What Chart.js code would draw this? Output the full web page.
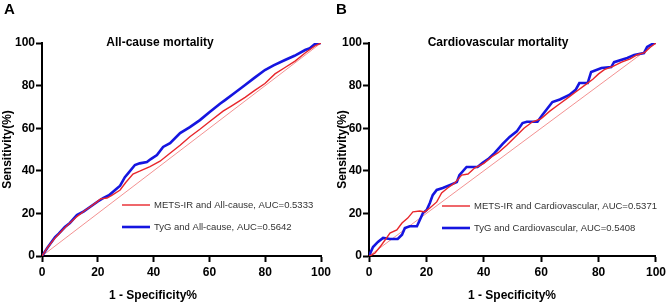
<!DOCTYPE html>
<html>
<head>
<meta charset="utf-8">
<script src="https://cdn.jsdelivr.net/npm/chart.js@4.4.1/dist/chart.umd.min.js"></script>
<style>
  html, body { margin: 0; padding: 0; background: #fff; }
  #wrap { position: relative; width: 669px; height: 303px; }
  #panelA { position: absolute; left: 0; top: 0; }
  #panelB { position: absolute; left: 335px; top: 0; }
</style>
</head>
<body>
<div id="wrap">
  <canvas id="panelA" width="335" height="303"></canvas>
  <canvas id="panelB" width="334" height="303"></canvas>
</div>
<script>
// axis ticks (both axes, both panels)
const tickValues = [0, 20, 40, 60, 80, 100];

// Panel A: all-cause mortality, [1 - specificity %, sensitivity %]
const metsAllCause = [[0,0],[2,4],[4.7,8.5],[8,13],[10,15.5],[12.5,18.5],[15,21],[17.2,23],[19.7,25.4],[21,26.8],[23.3,27.2],[25,28.5],[28,31],[30,34.5],[32.6,38.5],[35,39.8],[38.7,42],[42.3,44.5],[45.2,47.5],[49.5,52],[53,56],[56.6,59.5],[60,63],[64.9,68],[68,70.5],[72.8,74.5],[76,77.5],[79.9,81],[83.5,85.5],[87.1,88.5],[90.7,91.5],[94.3,95.3],[97.8,98.6],[100,100]];
const tygAllCause = [[0,0],[2,4],[4.7,8.9],[6,10.5],[8.2,13.6],[10,15.5],[12.5,19.2],[15,21],[17.2,23],[20,25.6],[21.9,27.2],[24,28.5],[26.2,31],[28,33],[29.7,37],[31,39],[33.3,42.7],[35,43.5],[37.6,44.1],[39,45.5],[41.2,47.4],[43.4,51.2],[45.9,53],[49.5,57.7],[53,60.5],[56.6,63.8],[60,67.5],[63.8,71.5],[65.6,73.2],[69,76.5],[72.8,80.3],[76,83.5],[79.9,87.3],[83,89.5],[87.1,92],[90.5,94],[94.3,96.7],[96,97.5],[97.8,99.5],[100,100]];

// Panel B: cardiovascular mortality
const metsCvd = [[0,0],[1,0.5],[2.1,1.4],[3.8,4.2],[5.6,7.5],[7.3,10.8],[9.7,12.2],[11.5,15.5],[13.5,17.8],[15.3,20.7],[17.7,21.1],[19.4,20.7],[21.2,22.5],[23.6,25.4],[25.3,29.6],[27.4,31.9],[29.9,34.3],[32.3,38],[34.5,38.5],[36.8,41.3],[40,43.5],[42.7,46.5],[45,48.5],[48,52],[51,56],[54,60],[57,63],[60,64.5],[63,68],[66,71],[69.5,74.5],[72,77],[75,80],[78,83],[80,85.5],[82,87.5],[85,89],[88,91],[91,92.5],[93.5,94.5],[96,95.5],[98,98],[100,100]];
const tygCvd = [[0,0],[1.4,4.2],[3.1,6.6],[4.9,8.5],[7.3,8],[10,8],[11.5,10],[12.5,13.1],[14.2,14],[16.7,14],[17.7,16.9],[18.8,20.2],[20.1,21.6],[21.2,24.9],[22.2,28.6],[23.6,31],[25.7,31.9],[28.1,33.3],[30.6,34.7],[31.5,38],[34,41.8],[37.8,41.8],[39.6,43.7],[41.5,45.5],[43.8,48.4],[46.5,52.5],[49,55.9],[51.5,58.5],[53.5,62.4],[55,63],[58.7,63],[60.4,66.2],[63.9,72.3],[66.5,73.5],[69.8,75.6],[72,78],[73.3,81.2],[76.2,81.2],[77.4,86.4],[81,88.3],[84.4,88.7],[85.4,91],[90,93],[92.4,94.4],[95.8,95.3],[96.9,98.1],[99.3,100],[100,100]];

const referenceLine = [[0,0],[100,100]];

const RED = '#e8262b';
const BLUE = '#1515e0';

const toXY = pts => pts.map(p => ({ x: p[0], y: p[1] }));

// panel letter, title, x-axis title and legend drawn on top
const panelText = {
    id: 'panelText',
    afterDraw(chart, args, o) {
        const ctx = chart.ctx;
        ctx.save();
        ctx.fillStyle = '#000';
        ctx.textBaseline = 'middle';
        ctx.textAlign = 'left';
        ctx.font = 'bold 15px "Liberation Sans", Arial, sans-serif';
        ctx.fillText(o.letter, o.letterX, 10);
        ctx.textAlign = 'center';
        ctx.font = 'bold 12px "Liberation Sans", Arial, sans-serif';
        ctx.fillText(o.title, o.titleX, 43);
        ctx.fillText('1 - Specificity%', o.xTitleX, 296);
        // legend
        ctx.textAlign = 'left';
        ctx.font = '9.5px "Liberation Sans", Arial, sans-serif';
        o.legend.forEach((item, i) => {
            const y = o.legendY + i * 22;
            ctx.strokeStyle = item.color;
            ctx.lineWidth = item.width;
            ctx.beginPath();
            ctx.moveTo(o.legendX, y);
            ctx.lineTo(o.legendX + 28, y);
            ctx.stroke();
            ctx.fillStyle = '#333';
            ctx.fillText(item.label, o.legendX + 32, y);
        });
        ctx.restore();
    }
};

function makeChart(id, redPts, bluePts, axisWidth, padRight, text) {
    return new Chart(document.getElementById(id), {
        type: 'line',
        data: {
            datasets: [
                { data: toXY(redPts), borderColor: RED, borderWidth: 1.4, pointRadius: 0, tension: 0 },
                { data: toXY(bluePts), borderColor: BLUE, borderWidth: 2.6, pointRadius: 0, tension: 0 },
                { data: toXY(referenceLine), borderColor: 'rgba(235,70,70,0.85)', borderWidth: 0.7, pointRadius: 0 }
            ]
        },
        options: {
            responsive: false,
            animation: false,
            layout: { padding: { top: 43, right: padRight, left: 0, bottom: 0 } },
            plugins: { legend: { display: false }, tooltip: { enabled: false }, title: { display: false }, panelText: text },
            scales: {
                x: {
                    type: 'linear', min: 0, max: 100,
                    afterBuildTicks: s => { s.ticks = tickValues.map(v => ({ value: v })); },
                    afterFit: s => { s.height = 47; },
                    border: { color: '#000', width: 2 },
                    grid: { drawOnChartArea: false, tickLength: 6, tickWidth: 2, tickColor: '#000' },
                    ticks: { color: '#000', padding: 3, maxRotation: 0, font: { family: '"Liberation Sans", Arial', size: 12, weight: 'bold' } }
                },
                y: {
                    type: 'linear', min: 0, max: 100,
                    afterBuildTicks: s => { s.ticks = tickValues.map(v => ({ value: v })); },
                    afterFit: s => { s.width = axisWidth; },
                    border: { color: '#000', width: 2 },
                    grid: { drawOnChartArea: false, tickLength: 6, tickWidth: 2, tickColor: '#000' },
                    ticks: { color: '#000', padding: 1, font: { family: '"Liberation Sans", Arial', size: 12, weight: 'bold' } },
                    title: { display: true, text: 'Sensitivity(%)', color: '#000', padding: 0, font: { family: '"Liberation Sans", Arial', size: 12, weight: 'bold' } }
                }
            }
        },
        plugins: [panelText]
    });
}

makeChart('panelA', metsAllCause, tygAllCause, 42, 14, {
    letter: 'A', letterX: 4, title: 'All-cause mortality', titleX: 160, xTitleX: 153,
    legendX: 122, legendY: 205,
    legend: [
        { label: 'METS-IR and All-cause, AUC=0.5333', color: RED, width: 1.4 },
        { label: 'TyG and All-cause, AUC=0.5642', color: BLUE, width: 2.6 }
    ]
});

makeChart('panelB', metsCvd, tygCvd, 34, 12, {
    letter: 'B', letterX: 1, title: 'Cardiovascular mortality', titleX: 163, xTitleX: 177,
    legendX: 107, legendY: 206,
    legend: [
        { label: 'METS-IR and Cardiovascular, AUC=0.5371', color: RED, width: 1.4 },
        { label: 'TyG and Cardiovascular, AUC=0.5408', color: BLUE, width: 2.6 }
    ]
});
</script>
</body>
</html>
